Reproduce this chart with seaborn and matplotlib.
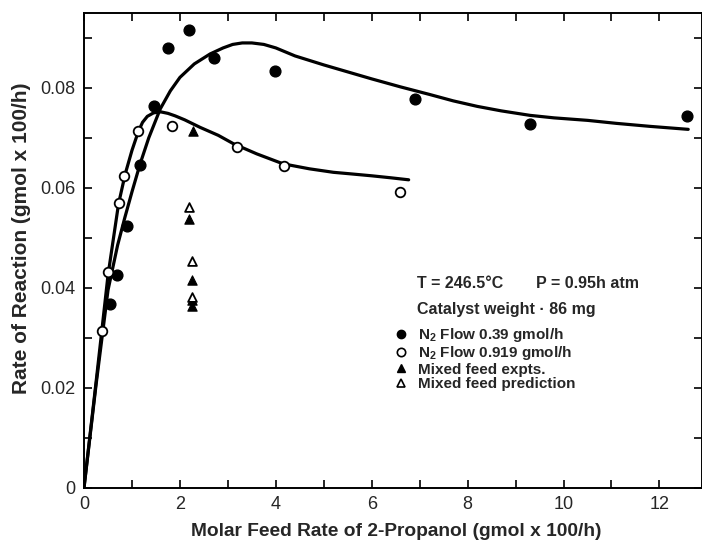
import matplotlib
matplotlib.use("Agg")
import matplotlib.pyplot as plt
from matplotlib.lines import Line2D
from matplotlib.ticker import MultipleLocator, FuncFormatter
import seaborn as sns

# ---- data ----
# N2 flow 0.39 gmol/h (filled circles)
n039_x = [0.55, 0.68, 0.89, 1.17, 1.45, 1.75, 2.19, 2.72, 3.99, 6.90, 9.29, 12.58]
n039_y = [0.0367, 0.0425, 0.0523, 0.0646, 0.0764, 0.0879, 0.0916, 0.0859, 0.0834, 0.0777, 0.0728, 0.0744]
# N2 flow 0.919 gmol/h (open circles)
n0919_x = [0.37, 0.51, 0.72, 0.84, 1.13, 1.84, 3.18, 4.16, 6.58]
n0919_y = [0.0314, 0.0431, 0.0569, 0.0624, 0.0713, 0.0724, 0.0681, 0.0644, 0.0592]
# Mixed feed experiments (filled triangles)
mix_exp_x = [2.28, 2.18, 2.25, 2.25, 2.25]
mix_exp_y = [0.0713, 0.0538, 0.0415, 0.0375, 0.0363]
# Mixed feed prediction (open triangles)
mix_pred_x = [2.18, 2.25, 2.26]
mix_pred_y = [0.0561, 0.0453, 0.0382]

# fitted curves
fit039_x = [0, 0.25, 0.5, 0.6, 0.7, 0.85, 1.0, 1.17, 1.35, 1.59, 1.8, 2.0, 2.3, 2.63,
            2.9, 3.1, 3.3, 3.5, 3.75, 4.0, 4.4, 5.0, 5.5, 6.0, 6.6, 7.2, 7.7, 8.2,
            8.7, 9.3, 9.8, 10.5, 11.1, 11.8, 12.6]
fit039_y = [0, 0.0205, 0.0395, 0.0440, 0.0485, 0.0540, 0.0592, 0.0648, 0.0700,
            0.0758, 0.0794, 0.0821, 0.0848, 0.0868, 0.0880, 0.0887, 0.0890, 0.0890,
            0.0887, 0.0880, 0.0864, 0.0846, 0.0832, 0.0818, 0.0802, 0.0787, 0.0774,
            0.0763, 0.0754, 0.0745, 0.0740, 0.0735, 0.0729, 0.0723, 0.0717]
fit0919_x = [0, 0.25, 0.5, 0.72, 0.86, 1.0, 1.13, 1.22, 1.32, 1.45, 1.6, 1.75, 1.9,
             2.1, 2.42, 2.8, 3.12, 3.6, 4.15, 4.7, 5.2, 5.55, 6.0, 6.4, 6.77]
fit0919_y = [0, 0.021, 0.0425, 0.0568, 0.0628, 0.0675, 0.0712, 0.0731, 0.0743,
             0.0750, 0.0752, 0.0749, 0.0744, 0.0736, 0.0721, 0.0705, 0.0688, 0.0668,
             0.0648, 0.0638, 0.0631, 0.0628, 0.0624, 0.0620, 0.0616]

x_major = [0, 2, 4, 6, 8, 10, 12]
y_major = [0, 0.02, 0.04, 0.06, 0.08]

sns.set_style("ticks")
plt.rcParams['font.family'] = ['Liberation Sans', 'DejaVu Sans']
plt.rcParams['mathtext.fontset'] = 'custom'
plt.rcParams['mathtext.rm'] = 'Liberation Sans'
plt.rcParams['mathtext.bf'] = 'Liberation Sans:bold'

fig = plt.figure(figsize=(7.02, 5.40), dpi=100)
ax = fig.add_axes([0.1197, 0.0972, 0.8798, 0.976 - 0.0972])

lw = 2.3
sns.lineplot(x=fit039_x, y=fit039_y, ax=ax, color='black', lw=lw, sort=False,
             estimator=None, zorder=2)
sns.lineplot(x=fit0919_x, y=fit0919_y, ax=ax, color='black', lw=lw, sort=False,
             estimator=None, zorder=2)

sns.scatterplot(x=n039_x, y=n039_y, ax=ax, marker='o', s=60, color='black',
                edgecolor='black', linewidth=1.0, zorder=3)
sns.scatterplot(x=n0919_x, y=n0919_y, ax=ax, marker='o', s=48, color='white',
                edgecolor='black', linewidth=1.3, zorder=4)
sns.scatterplot(x=mix_exp_x, y=mix_exp_y, ax=ax, marker='^', s=45, color='black',
                edgecolor='black', linewidth=0.8, zorder=3)
sns.scatterplot(x=mix_pred_x, y=mix_pred_y, ax=ax, marker='^', s=40, color='white',
                edgecolor='black', linewidth=1.3, zorder=4)

ax.set_xlim(0, 12.88)
ax.set_ylim(0, 0.095)
ax.set_xticks(x_major)
ax.xaxis.set_minor_locator(MultipleLocator(1))
ax.set_yticks(y_major)
ax.yaxis.set_minor_locator(MultipleLocator(0.01))
ax.yaxis.set_major_formatter(FuncFormatter(lambda v, p: "0" if v == 0 else f"{v:.2f}"))
ax.xaxis.set_major_formatter(FuncFormatter(lambda v, p: f"{int(round(v))}"))
ax.tick_params(which='both', direction='in', top=True, right=True, width=1.2,
               color='black')
ax.tick_params(which='major', length=6, labelsize=13, pad=6)
ax.tick_params(which='minor', length=6)
for s in ax.spines.values():
    s.set_linewidth(1.4)
    s.set_color('black')

ax.set_xlabel("Molar Feed Rate of 2-Propanol (gmol x 100/h)", fontsize=13.8,
              fontweight='bold', labelpad=7)
ax.xaxis.label.set_x(0.505)
ax.set_ylabel("Rate of Reaction (gmol x 100/h)", fontsize=15,
              fontweight='bold', labelpad=7)
ax.yaxis.label.set_y(0.526)

ax.text(6.95, 0.0409, "T = 246.5°C", fontsize=11.5,
        fontweight='bold', ha='left', va='center')
ax.text(9.42, 0.0409, "P = 0.95h atm", fontsize=11.5,
        fontweight='bold', ha='left', va='center')
ax.text(6.95, 0.0357, "Catalyst weight · 86 mg", fontsize=11.5,
        fontweight='bold', ha='left', va='center')

handles = [
    Line2D([], [], marker='o', ls='none', color='black', markersize=6),
    Line2D([], [], marker='o', ls='none', markerfacecolor='white',
           markeredgecolor='black', markersize=6, markeredgewidth=1.2),
    Line2D([], [], marker='^', ls='none', color='black', markersize=6),
    Line2D([], [], marker='^', ls='none', markerfacecolor='white',
           markeredgecolor='black', markersize=6, markeredgewidth=1.2),
]
labels = [r"$\mathbf{N_2}$ Flow 0.39 gmol/h", r"$\mathbf{N_2}$ Flow 0.919 gmol/h",
          "Mixed feed expts.", "Mixed feed prediction"]
ax.legend(handles, labels, loc='upper left', bbox_to_anchor=(0.506, 0.340),
          frameon=False, handlelength=0.6, handletextpad=0.8,
          labelspacing=0.02, borderpad=0, borderaxespad=0,
          prop={'weight': 'bold', 'size': 11})

fig.savefig("out.png", dpi=100)
